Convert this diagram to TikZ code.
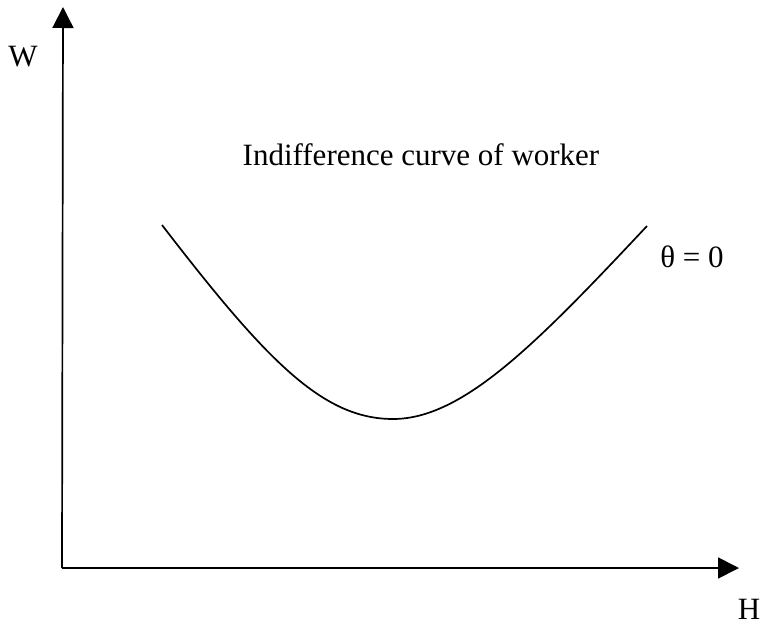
\documentclass[tikz,border=0pt]{standalone}
\usepackage{fontspec}
\setmainfont{Liberation Serif}
\usepackage{tikz}
\usetikzlibrary{arrows.meta,positioning}

\begin{document}
\begin{tikzpicture}[
    x=1pt, y=-1pt,
    lbl/.style={anchor=base, inner sep=0pt, font=\fontsize{31}{36}\selectfont},
    axis/.style={line width=1.7pt, -{Triangle[length=21pt,width=21pt]}},
    icurve/.style={line width=1.7pt}
]
\useasboundingbox (0,0) rectangle (765,629);

\coordinate (origin) at (62,568);
\coordinate (wtip)   at (63,7);
\coordinate (htip)   at (739,568);

\draw[axis] (origin) -- (wtip);
\draw[axis] (origin) -- (htip);

\node[lbl] (wlabel) at (23,66)   {W};
\node[lbl] (hlabel) at (749,619) {H};
\node[lbl] (title)  at (421,165) {Indifference curve of worker};
\node[lbl] (theta)  at (692,267) {θ = 0};

% indifference curve
\coordinate (cleft)  at (162,225);
\coordinate (cmin)   at (393,419);
\coordinate (cright) at (647,226);
\draw[icurve] (cleft) .. controls (267,361.5) and (323,419) .. (cmin)
                      .. controls (463,419) and (537,343.2) .. (cright);
\end{tikzpicture}
\end{document}
